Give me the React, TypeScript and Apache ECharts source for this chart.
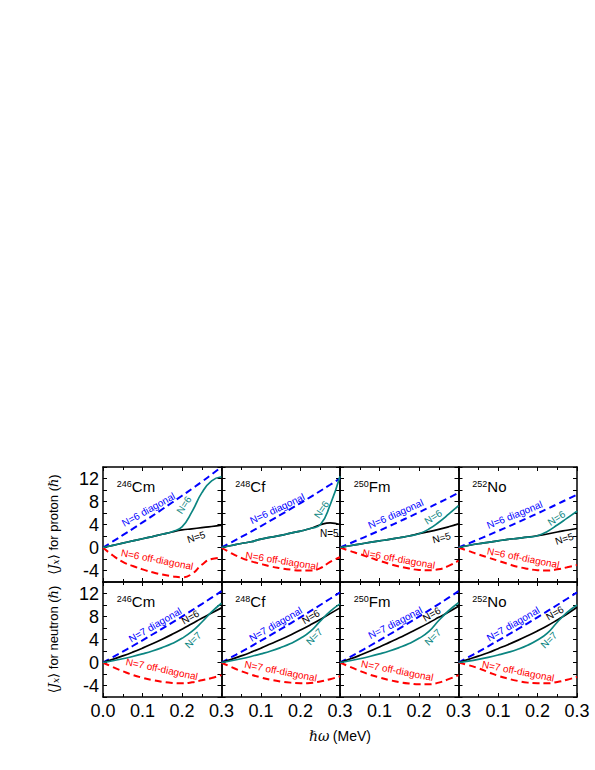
import React, { useEffect, useRef } from 'react';
import * as echarts from 'echarts';

// rotational frequency grid (MeV)
const omega = [0, 0.025, 0.05, 0.075, 0.1, 0.125, 0.15, 0.175, 0.2, 0.225, 0.25, 0.275, 0.3];

const nucleusMass = ['246', '248', '250', '252'];
const nucleusSymbol = ['Cm', 'Cf', 'Fm', 'No'];
const yTickValues = [-4, 0, 4, 8, 12];

// ---- proton <Jx> ----
const cmProtonDiag = [0, 1.06, 2.14, 3.24, 4.36, 5.5, 6.65, 7.82, 9.0, 10.2, 11.42, 12.7, 14.0];
const cmProtonN6 = [0, 0.38, 0.76, 1.14, 1.52, 1.9, 2.3, 2.75, 3.6, 6.2, 9.5, 11.6, 12.3];
const cmProtonN5 = [0, 0.38, 0.76, 1.14, 1.52, 1.9, 2.3, 2.7, 3.05, 3.25, 3.45, 3.65, 3.9];
const cmProtonOff = [0, -1.4, -2.5, -3.2, -3.8, -4.3, -4.7, -5.0, -5.2, -4.6, -3.0, -2.0, -1.8];

const cfProtonDiag = [0, 0.91, 1.83, 2.77, 3.73, 4.71, 5.7, 6.71, 7.73, 8.77, 9.83, 10.91, 12.0];
const cfProtonN6 = [0, 0.35, 0.7, 1.0, 1.45, 1.8, 2.1, 2.5, 2.85, 3.3, 3.95, 7.4, 12.4];
const cfProtonN5 = [0, 0.35, 0.7, 1.0, 1.45, 1.8, 2.1, 2.5, 2.85, 3.3, 3.95, 4.3, 4.0];
const cfProtonOff = [0, -1.0, -1.8, -2.4, -2.85, -3.3, -3.6, -3.85, -4.0, -4.0, -3.6, -2.5, -1.7];

const fmProtonDiag = [0, 0.72, 1.45, 2.19, 2.95, 3.73, 4.51, 5.31, 6.12, 6.94, 7.78, 8.63, 9.5];
const fmProtonN6 = [0, 0.3, 0.6, 0.88, 1.15, 1.4, 1.7, 2.0, 2.4, 3.2, 4.4, 5.8, 7.3];
const fmProtonN5 = [0, 0.3, 0.6, 0.88, 1.15, 1.4, 1.7, 2.0, 2.4, 2.75, 3.15, 3.6, 4.1];
const fmProtonOff = [0, -0.6, -1.15, -1.75, -2.3, -2.85, -3.3, -3.65, -3.9, -3.95, -3.8, -3.2, -2.3];

const noProtonDiag = [0, 0.7, 1.4, 2.12, 2.86, 3.61, 4.37, 5.14, 5.93, 6.73, 7.54, 8.37, 9.2];
const noProtonN6 = [0, 0.35, 0.65, 0.9, 1.15, 1.4, 1.6, 1.8, 2.05, 2.8, 3.9, 5.1, 6.3];
const noProtonN5 = [0, 0.35, 0.65, 0.9, 1.15, 1.4, 1.6, 1.8, 2.05, 2.35, 2.7, 3.0, 3.3];
const noProtonOff = [0, -0.6, -1.2, -1.75, -2.3, -2.85, -3.35, -3.7, -3.95, -4.0, -3.8, -3.45, -3.05];

// ---- neutron <Jx> ----
const cmNeutronDiag = [0, 0.94, 1.9, 2.87, 3.86, 4.87, 5.89, 6.93, 7.99, 9.07, 10.16, 11.27, 12.4];
const cmNeutronN6 = [0, 0.55, 1.15, 1.8, 2.5, 3.25, 4.05, 4.9, 5.8, 6.75, 7.7, 8.6, 9.5];
const cmNeutronN7 = [0, 0.3, 0.65, 1.05, 1.5, 2.0, 2.6, 3.3, 4.2, 5.4, 7.0, 8.8, 10.3];
const cmNeutronOff = [0, -0.8, -1.5, -2.15, -2.65, -3.05, -3.35, -3.55, -3.6, -3.45, -3.1, -2.7, -2.2];

const cfNeutronDiag = [0, 0.92, 1.86, 2.82, 3.8, 4.79, 5.8, 6.82, 7.86, 8.92, 10.0, 11.09, 12.2];
const cfNeutronN6 = [0, 0.55, 1.15, 1.8, 2.5, 3.25, 4.0, 4.8, 5.65, 6.55, 7.5, 8.5, 9.5];
const cfNeutronN7 = [0, 0.3, 0.65, 1.05, 1.5, 2.0, 2.6, 3.3, 4.2, 5.4, 7.2, 8.9, 10.2];
const cfNeutronOff = [0, -0.8, -1.5, -2.1, -2.6, -3.0, -3.3, -3.5, -3.6, -3.55, -3.3, -2.9, -2.4];

const fmNeutronDiag = [0, 0.94, 1.9, 2.87, 3.86, 4.87, 5.89, 6.93, 7.99, 9.07, 10.16, 11.27, 12.4];
const fmNeutronN6 = [0, 0.6, 1.25, 1.95, 2.7, 3.5, 4.3, 5.15, 6.0, 6.9, 7.85, 8.8, 9.8];
const fmNeutronN7 = [0, 0.3, 0.65, 1.05, 1.5, 2.0, 2.6, 3.3, 4.2, 5.4, 7.3, 9.0, 10.4];
const fmNeutronOff = [0, -0.75, -1.45, -2.1, -2.6, -3.05, -3.4, -3.65, -3.8, -3.8, -3.5, -2.9, -2.2];

const noNeutronDiag = [0, 0.92, 1.86, 2.82, 3.8, 4.79, 5.8, 6.82, 7.86, 8.92, 10.0, 11.09, 12.2];
const noNeutronN6 = [0, 0.55, 1.1, 1.7, 2.4, 3.1, 3.85, 4.65, 5.5, 6.4, 7.4, 8.45, 9.6];
const noNeutronN7 = [0, 0.25, 0.55, 0.9, 1.3, 1.75, 2.3, 3.0, 3.9, 5.1, 7.0, 8.7, 10.0];
const noNeutronOff = [0, -0.45, -1.0, -1.65, -2.3, -2.8, -3.2, -3.5, -3.6, -3.6, -3.4, -3.0, -2.5];

const protonDiag = [cmProtonDiag, cfProtonDiag, fmProtonDiag, noProtonDiag];
const protonOff = [cmProtonOff, cfProtonOff, fmProtonOff, noProtonOff];
const protonMain = [cmProtonN6, cfProtonN6, fmProtonN6, noProtonN6]; // N=6 (teal)
const protonOther = [cmProtonN5, cfProtonN5, fmProtonN5, noProtonN5]; // N=5 (black)
const neutronDiag = [cmNeutronDiag, cfNeutronDiag, fmNeutronDiag, noNeutronDiag];
const neutronOff = [cmNeutronOff, cfNeutronOff, fmNeutronOff, noNeutronOff];
const neutronMain = [cmNeutronN7, cfNeutronN7, fmNeutronN7, noNeutronN7]; // N=7 (teal)
const neutronOther = [cmNeutronN6, cfNeutronN6, fmNeutronN6, noNeutronN6]; // N=6 (black)

const FONT = "'Liberation Sans', Arial, 'DejaVu Sans', sans-serif";
const BLUE = '#0000ff';
const RED = '#ff0000';
const TEAL = '#0b8581';
const BLACK = '#000000';

// annotation placement: [text, color, omega, value, rotation deg]
type Ann = [string, string, number, number, number];
const annotations: Ann[][] = [
  [['N=6 diagonal', BLUE, 0.115, 6.6, 29], ['N=6', TEAL, 0.205, 7.4, 57], ['N=5', BLACK, 0.236, 1.8, 18], ['N=6 off-diagonal', RED, 0.137, -2.1, -11]],
  [['N=6 diagonal', BLUE, 0.141, 6.75, 25], ['N=6', TEAL, 0.253, 6.6, 56], ['N=5', BLACK, 0.273, 2.5, 0], ['N=6 off-diagonal', RED, 0.153, -2.3, -9]],
  [['N=6 diagonal', BLUE, 0.141, 5.85, 24], ['N=6', TEAL, 0.236, 5.3, 33], ['N=5', BLACK, 0.257, 1.7, 15], ['N=6 off-diagonal', RED, 0.149, -2.0, -10]],
  [['N=6 diagonal', BLUE, 0.142, 5.7, 22], ['N=6', TEAL, 0.248, 5.1, 33], ['N=5', BLACK, 0.268, 1.5, 18], ['N=6 off-diagonal', RED, 0.164, -1.8, -11]],
  [['N=7 diagonal', BLUE, 0.132, 6.55, 30], ['N=6', BLACK, 0.221, 7.9, 30], ['N=7', TEAL, 0.228, 3.9, 45], ['N=7 off-diagonal', RED, 0.149, -1.15, -12]],
  [['N=7 diagonal', BLUE, 0.137, 6.65, 30], ['N=6', BLACK, 0.226, 7.95, 30], ['N=7', TEAL, 0.235, 4.5, 45], ['N=7 off-diagonal', RED, 0.15, -1.5, -11]],
  [['N=7 diagonal', BLUE, 0.14, 6.9, 27], ['N=6', BLACK, 0.232, 8.4, 30], ['N=7', TEAL, 0.235, 4.4, 45], ['N=7 off-diagonal', RED, 0.145, -1.4, -11]],
  [['N=7 diagonal', BLUE, 0.138, 6.7, 30], ['N=6', BLACK, 0.244, 8.6, 30], ['N=7', TEAL, 0.229, 3.9, 45], ['N=7 off-diagonal', RED, 0.151, -1.5, -11]],
];

const GRID_LEFT = 103;
const GRID_W = 118.5;
const ROW_TOP = [467, 582];
const GRID_H = 115;

const yName = (who: string) => `{n|⟨}{i|J}{s|x}{n|⟩ for ${who} (}{i|ℏ}{n|)}`;
const nameRich = {
  n: { fontSize: 13, fontFamily: FONT, color: '#000' },
  i: { fontSize: 13, fontFamily: 'DejaVu Serif, serif', fontStyle: 'italic', color: '#000' },
  s: { fontSize: 9, fontFamily: 'DejaVu Serif, serif', fontStyle: 'italic', color: '#000', verticalAlign: 'bottom', padding: [5, 0, 0, 0] },
};

export default function App() {
  const ref = useRef<HTMLDivElement>(null);
  useEffect(() => {
    const chart = echarts.init(ref.current!, null, { renderer: 'svg' });
    const grids: any[] = [];
    const xAxes: any[] = [];
    const yAxes: any[] = [];
    const series: any[] = [];
    const axisLine = { show: true, onZero: false, lineStyle: { color: '#000', width: 1.5 } };
    for (let k = 0; k < 8; k++) {
      const r = Math.floor(k / 4);
      const c = k % 4;
      grids.push({ left: GRID_LEFT + c * GRID_W, top: ROW_TOP[r], width: GRID_W, height: GRID_H });
      const xBase = {
        type: 'value', gridIndex: k, min: 0, max: 0.3, interval: 0.1,
        axisLine,
        axisTick: { show: true, inside: true, length: 4, lineStyle: { color: '#000', width: 1 } },
        minorTick: { show: true, splitNumber: 2, length: 3, lineStyle: { color: '#000', width: 1 } },
        splitLine: { show: false }, minorSplitLine: { show: false },
      };
      xAxes.push({
        ...xBase, position: 'bottom',
        axisLabel: {
          show: r === 1, fontSize: 18, color: '#000', fontFamily: FONT, margin: 5,
          showMinLabel: true, showMaxLabel: true,
          formatter: (v: number) => (c > 0 && Math.abs(v) < 1e-9 ? '' : v.toFixed(1)),
        },
      });
      xAxes.push({ ...xBase, position: 'top', axisLabel: { show: false } });
      const yBase = {
        type: 'value', gridIndex: k, min: -6, max: 14, interval: 2,
        axisLine,
        axisTick: { show: true, inside: true, length: 4, lineStyle: { color: '#000', width: 1 } },
        splitLine: { show: false },
      };
      yAxes.push({
        ...yBase, position: 'left',
        axisLabel: {
          show: c === 0, fontSize: 18, color: '#000', fontFamily: FONT, margin: 4,
          formatter: (v: number) => (yTickValues.includes(v) ? String(v) : ''),
        },
        name: c === 0 ? yName(r === 0 ? 'proton' : 'neutron') : '',
        nameLocation: 'middle', nameGap: 43,
        nameTextStyle: { rich: nameRich, fontFamily: FONT, fontSize: 13, color: '#000' },
      });
      yAxes.push({ ...yBase, position: 'right', axisLabel: { show: false } });

      const diag = r === 0 ? protonDiag[c] : neutronDiag[c];
      const off = r === 0 ? protonOff[c] : neutronOff[c];
      const main = r === 0 ? protonMain[c] : neutronMain[c];
      const other = r === 0 ? protonOther[c] : neutronOther[c];
      const mk = (arr: number[], color: string, dashed: boolean, z: number) => ({
        type: 'line', xAxisIndex: 2 * k, yAxisIndex: 2 * k,
        data: omega.map((w, i) => [w, arr[i]]),
        showSymbol: false, symbol: 'none', smooth: 0.5, z,
        lineStyle: { color, width: dashed ? 2 : 1.7, type: dashed ? [7, 4] : 'solid' },
        silent: true,
      });
      series.push(mk(diag, BLUE, true, 3));
      series.push(mk(off, RED, true, 3));
      series.push(mk(other, BLACK, false, 4));
      series.push(mk(main, TEAL, false, 5));
    }

    chart.setOption({
      animation: false,
      backgroundColor: '#ffffff',
      grid: grids,
      xAxis: xAxes,
      yAxis: yAxes,
      series,
    });

    const graphics: any[] = [];
    for (let k = 0; k < 8; k++) {
      const c = k % 4;
      const finder = { xAxisIndex: 2 * k, yAxisIndex: 2 * k };
      const tp = chart.convertToPixel(finder, [0.035, 10.6]) as number[];
      graphics.push({
        type: 'text', x: tp[0], y: tp[1], z: 10,
        style: {
          text: `{a|${nucleusMass[c]}}{b|${nucleusSymbol[c]}}`,
          align: 'left', verticalAlign: 'middle',
          rich: {
            a: { fontSize: 9, fontFamily: FONT, fill: '#000', verticalAlign: 'top' },
            b: { fontSize: 15, fontFamily: FONT, fill: '#000' },
          },
        },
      });
      for (const [text, color, w, v, rot] of annotations[k]) {
        const p = chart.convertToPixel(finder, [w, v]) as number[];
        graphics.push({
          type: 'text', x: p[0], y: p[1], rotation: (rot * Math.PI) / 180, z: 10,
          style: { text, fill: color, fontSize: 10, fontFamily: FONT, align: 'center', verticalAlign: 'middle' },
        });
      }
    }
    graphics.push({
      type: 'text', x: GRID_LEFT + 2 * GRID_W, y: 736, z: 10,
      style: {
        text: '{i|ℏω} {n|(MeV)}', align: 'center', verticalAlign: 'middle',
        rich: {
          i: { fontSize: 14, fontFamily: 'DejaVu Serif, serif', fontStyle: 'italic', fill: '#000' },
          n: { fontSize: 14, fontFamily: FONT, fill: '#000' },
        },
      },
    });
    chart.setOption({ graphic: graphics });

    return () => chart.dispose();
  }, []);
  return <div ref={ref} style={{ position: 'fixed', left: 0, top: 0, width: 595, height: 770, background: '#fff' }} />;
}
